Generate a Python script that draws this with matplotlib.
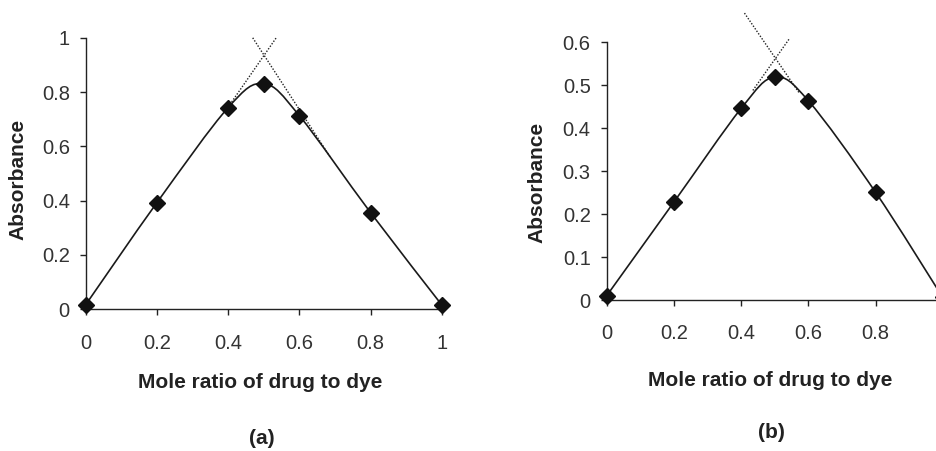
import numpy as np
import matplotlib
matplotlib.use("Agg")
import matplotlib.pyplot as plt
from matplotlib.path import Path
from matplotlib.patches import PathPatch

plt.rcParams["font.family"] = ["Liberation Sans", "DejaVu Sans"]

# mole ratio of drug to dye (x) and absorbance for each panel
ratio = [0.0, 0.2, 0.4, 0.5, 0.6, 0.8, 1.0]
abs_a = [0.017, 0.393, 0.743, 0.831, 0.713, 0.356, 0.016]
abs_b = [0.010, 0.228, 0.446, 0.519, 0.464, 0.251, 0.006]

# dotted extrapolation lines (end points), per panel
rise_a_x, rise_a_y = [0.40, 0.535], [0.745, 1.0]
fall_a_x, fall_a_y = [0.469, 0.686], [1.0, 0.562]
rise_b_x, rise_b_y = [0.435, 0.545], [0.488, 0.610]
fall_b_x, fall_b_y = [0.410, 0.573], [0.668, 0.482]

xticks = [0, 0.2, 0.4, 0.6, 0.8, 1]
xlabels_a = ["0", "0.2", "0.4", "0.6", "0.8", "1"]
xlabels_b = ["0", "0.2", "0.4", "0.6", "0.8", ""]   # "1" falls off the page
yticks_a = [0, 0.2, 0.4, 0.6, 0.8, 1]
ylabels_a = ["0", "0.2", "0.4", "0.6", "0.8", "1"]
yticks_b = [0, 0.1, 0.2, 0.3, 0.4, 0.5, 0.6]
ylabels_b = ["0", "0.1", "0.2", "0.3", "0.4", "0.5", "0.6"]


def smooth_path(x, y):
    """Excel-style smoothed line: cubic Bezier segments through the points."""
    p = np.column_stack([x, y])
    ext = np.vstack([p[0], p, p[-1]])
    verts = [p[0]]
    codes = [Path.MOVETO]
    for i in range(len(p) - 1):
        p0, p1, p2, p3 = ext[i], ext[i + 1], ext[i + 2], ext[i + 3]
        verts += [p1 + (p2 - p0) / 6, p2 - (p3 - p1) / 6, p2]
        codes += [Path.CURVE4] * 3
    return Path(verts, codes)


def panel(ax, y, ylim, yticks, ylabels, xlabels, rise, fall):
    ax.add_patch(PathPatch(smooth_path(ratio, y), facecolor="none",
                           edgecolor="#1a1a1a", lw=1.2, zorder=2))
    ax.plot(ratio, y, ls="none", marker="D", ms=8, color="#111111",
            zorder=3, clip_on=False)
    for lx, ly in (rise, fall):
        ax.plot(lx, ly, ls=(0, (1, 1.2)), lw=1.0, color="#222222",
                clip_on=False, zorder=1)
    ax.set_xlim(0, 1)
    ax.set_ylim(*ylim)
    ax.set_xticks(xticks)
    ax.set_xticklabels(xlabels)
    ax.set_yticks(yticks)
    ax.set_yticklabels(ylabels)
    for s in ("top", "right"):
        ax.spines[s].set_visible(False)
    for s in ("left", "bottom"):
        ax.spines[s].set_linewidth(1.0)
        ax.spines[s].set_color("#222222")
    ax.tick_params(axis="both", direction="out", length=4.5, width=1.0,
                   color="#222222", labelsize=14.5, labelcolor="#333333")
    ax.tick_params(axis="x", pad=13)
    ax.tick_params(axis="y", pad=7)


fig = plt.figure(figsize=(9.37, 4.51), dpi=100)
ax_a = fig.add_axes([0.0915, 0.3142, 0.380, 0.602])
ax_b = fig.add_axes([0.6475, 0.3348, 0.3586, 0.5714])

panel(ax_a, abs_a, (0, 1), yticks_a, ylabels_a, xlabels_a,
      (rise_a_x, rise_a_y), (fall_a_x, fall_a_y))
panel(ax_b, abs_b, (0, 0.6), yticks_b, ylabels_b, xlabels_b,
      (rise_b_x, rise_b_y), (fall_b_x, fall_b_y))

lab = dict(fontsize=15, fontweight="bold", color="#222222",
           ha="center", va="center")
fig.text(0.2775, 1 - 383 / 451, "Mole ratio of drug to dye", **lab)
fig.text(0.8218, 1 - 381 / 451, "Mole ratio of drug to dye", **lab)
fig.text(0.0192, 0.603, "Absorbance", rotation=90, **lab)
fig.text(0.573, 0.596, "Absorbance", rotation=90, **lab)
fig.text(0.2796, 1 - 438 / 451, "(a)", **lab)
fig.text(0.8236, 1 - 433 / 451, "(b)", **lab)

fig.savefig("out.png", dpi=100)
